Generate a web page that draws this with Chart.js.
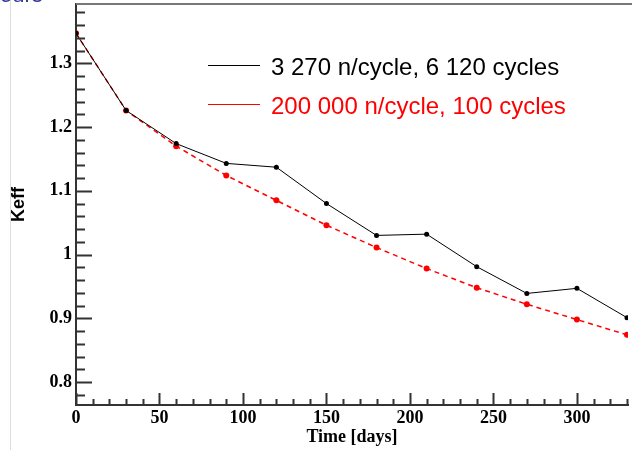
<!DOCTYPE html>
<html lang="en">
  <head>
    <meta charset="UTF-8" />
    <title>Keff vs time</title>
    <script src="https://cdn.jsdelivr.net/npm/chart.js"></script>
    <style>
      html, body { margin: 0; padding: 0; background: #fff; }
      #wrap { width: 632px; height: 450px; }
    </style>
  </head>
  <body>
    <div id="wrap"><canvas id="keffChart"></canvas></div>
    <script>
      // time steps (days)
      const days = [0, 30, 60, 90, 120, 150, 180, 210, 240, 270, 300, 330];
      // 3 270 n/cycle, 6 120 cycles
      const keffLowStat = [1.347, 1.226, 1.174, 1.143, 1.137, 1.080, 1.030, 1.032, 0.981, 0.939, 0.947, 0.901];
      // 200 000 n/cycle, 100 cycles
      const keffHighStat = [1.347, 1.226, 1.170, 1.124, 1.085, 1.046, 1.011, 0.978, 0.948, 0.922, 0.898, 0.874];
      const seriesLabels = ["3 270 n/cycle, 6 120 cycles", "200 000 n/cycle, 100 cycles"];

      const xTicks = [0, 50, 100, 150, 200, 250, 300];
      const yTicks = [0.8, 0.9, 1.0, 1.1, 1.2, 1.3];
      const yTickLabels = ["0.8", "0.9", "1", "1.1", "1.2", "1.3"];

      const frameColor = "#333";
      const serifBold = { family: "'Liberation Serif', 'Times New Roman', serif", size: 18, weight: "bold" };

      // inward ROOT-style ticks, frame top, legend
      const rootFrame = {
        id: "rootFrame",
        afterDraw(chart) {
          const { ctx, chartArea, scales } = chart;
          const x = scales.x, y = scales.y;
          ctx.save();
          ctx.strokeStyle = frameColor;
          ctx.lineWidth = 2;
          ctx.beginPath();
          // y ticks: every 0.02, major every 0.1
          for (let i = 38; i <= 70; i++) {
            const v = i / 50;
            if (v < y.min || v > y.max) continue;
            const py = Math.round(y.getPixelForValue(v)) + 0.5;
            const len = i % 5 === 0 ? 16 : 9;
            ctx.moveTo(chartArea.left, py);
            ctx.lineTo(chartArea.left + len, py);
          }
          // x ticks: every 10, major every 50
          for (let d = 0; d <= x.max; d += 10) {
            const px = Math.round(x.getPixelForValue(d)) + 0.5;
            const len = d % 50 === 0 ? 12 : 6;
            ctx.moveTo(px, chartArea.bottom);
            ctx.lineTo(px, chartArea.bottom - len);
          }
          ctx.stroke();

          // top frame line
          ctx.strokeStyle = "#777";
          ctx.lineWidth = 2;
          ctx.beginPath();
          ctx.moveTo(chartArea.left, chartArea.top);
          ctx.lineTo(chart.width, chartArea.top);
          ctx.stroke();

          // legend
          ctx.font = "24px 'Liberation Sans', Arial, sans-serif";
          ctx.textBaseline = "middle";
          const rows = [65, 104];
          chart.data.datasets.forEach((ds, i) => {
            ctx.strokeStyle = ds.borderColor;
            ctx.lineWidth = 1.2;
            ctx.beginPath();
            ctx.moveTo(208, rows[i] + 0.5);
            ctx.lineTo(260, rows[i] + 0.5);
            ctx.stroke();
            ctx.fillStyle = ds.borderColor;
            ctx.fillText(ds.label, 271, rows[i] + 3);
          });

          // page remnants from the slide
          ctx.strokeStyle = "#ddd";
          ctx.lineWidth = 1;
          ctx.beginPath();
          ctx.moveTo(10.5, 0);
          ctx.lineTo(10.5, 450);
          ctx.stroke();
          ctx.fillStyle = "#33339a";
          ctx.font = "22px 'Liberation Sans', Arial, sans-serif";
          ctx.textBaseline = "alphabetic";
          ctx.fillText("ours", 0, 2);
          ctx.restore();
        },
      };

      new Chart(document.getElementById("keffChart"), {
        type: "line",
        data: {
          labels: days,
          datasets: [
            {
              label: seriesLabels[0],
              data: days.map((d, i) => ({ x: d, y: keffLowStat[i] })),
              borderColor: "#000000",
              backgroundColor: "#000000",
              borderWidth: 1,
              pointRadius: 2.5,
              pointBorderWidth: 0,
              tension: 0,
            },
            {
              label: seriesLabels[1],
              data: days.map((d, i) => ({ x: d, y: keffHighStat[i] })),
              borderColor: "#ff0000",
              backgroundColor: "#ff0000",
              borderWidth: 1.5,
              borderDash: [5, 4],
              pointRadius: 3,
              pointBorderWidth: 0,
              tension: 0,
            },
          ],
        },
        options: {
          responsive: true,
          maintainAspectRatio: false,
          animation: false,
          layout: { padding: { top: 4, right: 0, left: 0, bottom: 0 } },
          plugins: {
            legend: { display: false },
            tooltip: { enabled: false },
          },
          scales: {
            x: {
              type: "linear",
              min: 0,
              max: 330.6,
              afterBuildTicks: (s) => { s.ticks = xTicks.map((v) => ({ value: v })); },
              afterFit: (s) => {
                s.height = 45;
                s.paddingLeft = 0;
                s.paddingRight = 0;
              },
              grid: { display: false, drawTicks: false },
              border: { display: true, color: frameColor, width: 2 },
              ticks: { padding: 3, maxRotation: 0, color: "#000", font: serifBold },
              title: {
                display: true,
                text: "Time [days]",
                color: "#000",
                padding: { top: 0, bottom: 2 },
                font: serifBold,
              },
            },
            y: {
              min: 0.764,
              max: 1.393,
              afterBuildTicks: (s) => { s.ticks = yTicks.map((v) => ({ value: v })); },
              afterFit: (s) => {
                s.width = 76;
                s.paddingTop = 0;
                s.paddingBottom = 0;
              },
              grid: { display: false, drawTicks: false },
              border: { display: true, color: frameColor, width: 2 },
              ticks: {
                padding: 4,
                color: "#000",
                callback: (v) => yTickLabels[yTicks.findIndex((t) => Math.abs(t - v) < 1e-6)],
                font: serifBold,
              },
              title: {
                display: true,
                text: "Keff",
                color: "#000",
                padding: { top: 8, bottom: 0 },
                font: { family: "'Liberation Sans', Arial, sans-serif", size: 18, weight: "bold" },
              },
            },
          },
        },
        plugins: [rootFrame],
      });
    </script>
  </body>
</html>
